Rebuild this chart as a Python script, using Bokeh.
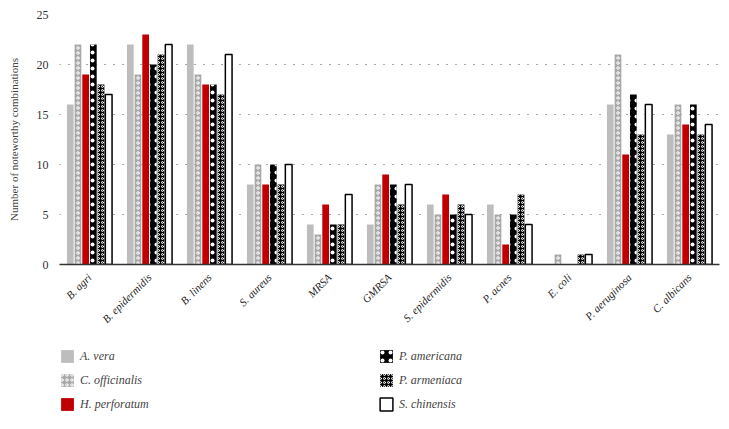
from bokeh.plotting import figure
from bokeh.models import FactorRange, Legend, LegendItem, Range1d
from bokeh.layouts import column
from bokeh.transform import dodge
from bokeh.embed import file_html
from bokeh.resources import INLINE
import math

categories = ["B. agri", "B. epidermidis", "B. linens", "S. aureus", "MRSA", "GMRSA",
              "S. epidermidis", "P. acnes", "E. coli", "P. aeruginosa", "C. albicans"]
series_names = ["A. vera", "C. officinalis", "H. perforatum",
                "P. americana", "P. armeniaca", "S. chinensis"]
a_vera        = [16, 22, 22, 8, 4, 4, 6, 6, 0, 16, 13]
c_officinalis = [22, 19, 19, 10, 3, 8, 5, 5, 1, 21, 16]
h_perforatum  = [19, 23, 18, 8, 6, 9, 7, 2, 0, 11, 14]
p_americana   = [22, 20, 18, 10, 4, 8, 5, 5, 0, 17, 16]
p_armeniaca   = [18, 21, 17, 8, 4, 6, 6, 7, 1, 13, 13]
s_chinensis   = [17, 22, 21, 10, 7, 8, 5, 4, 1, 16, 14]
y_ticks = [0, 5, 10, 15, 20, 25]

series_values = [a_vera, c_officinalis, h_perforatum, p_americana, p_armeniaca, s_chinensis]

styles = [
    dict(fill_color="#bdbdbd", line_color=None),
    dict(fill_color="#a8a8a8", line_color=None, hatch_pattern="ring", hatch_color="white",
         hatch_scale=5, hatch_weight=1),
    dict(fill_color="#c00000", line_color=None),
    dict(fill_color="black", line_color=None, hatch_pattern="dot", hatch_color="white",
         hatch_scale=8, hatch_weight=1.5),
    dict(fill_color="black", line_color=None, hatch_pattern="ring", hatch_color="white",
         hatch_scale=4, hatch_weight=1),
    dict(fill_color="white", line_color="black", line_width=1.5),
]

serif = "Liberation Serif"

p = figure(x_range=FactorRange(*categories), y_range=Range1d(0, 25),
           frame_width=660, frame_height=250, output_backend="svg", toolbar_location=None,
           min_border_left=59, min_border_right=2, min_border_top=14, min_border_bottom=62)
p.outline_line_color = None

# legend panel (separate figure below the chart; its zero-size proxy bars lie outside its range)
lg = figure(width=721, height=87, output_backend="svg", toolbar_location=None,
            x_range=FactorRange(*categories), y_range=Range1d(100, 101),
            x_axis_location=None, y_axis_location=None, min_border=0)
lg.grid.visible = False
lg.outline_line_color = None

step = 0.128
items = []
for i, (name, vals) in enumerate(zip(series_names, series_values)):
    data = dict(cat=categories, val=vals)
    p.vbar(x=dodge("cat", (i - 2.5) * step, range=p.x_range), top="val",
           width=0.112, source=data, **styles[i])
    r = lg.vbar(x=dodge("cat", (i - 2.5) * step, range=lg.x_range), top="val", bottom="val",
                width=0, source=data, **styles[i])
    items.append(LegendItem(label=name, renderers=[r]))

p.xgrid.grid_line_color = None
p.ygrid.grid_line_color = "#555555"
p.ygrid.grid_line_dash = "1 8"
p.ygrid.grid_line_width = 1.2

p.yaxis.ticker = y_ticks
p.yaxis.axis_line_color = None
p.yaxis.major_tick_line_color = None
p.yaxis.minor_tick_line_color = None
p.yaxis.axis_label = "Number of noteworthy combinations"
p.yaxis.axis_label_text_font = serif
p.yaxis.axis_label_text_font_style = "normal"
p.yaxis.axis_label_text_font_size = "11px"
p.yaxis.axis_label_standoff = 14
p.yaxis.major_label_text_font = serif
p.yaxis.major_label_text_font_size = "12px"
p.yaxis.major_label_text_color = "#333333"

p.xaxis.axis_line_color = "#333333"
p.xaxis.axis_line_width = 1.5
p.xaxis.major_tick_line_color = None
p.xaxis.minor_tick_line_color = None
p.xaxis.major_label_orientation = math.pi / 4
p.xaxis.major_label_text_font = serif
p.xaxis.major_label_text_font_style = "italic"
p.xaxis.major_label_text_font_size = "11px"
p.xaxis.major_label_text_color = "#222222"

legend = Legend(items=items, nrows=3, location=(0, 7),
                label_text_font=serif, label_text_font_style="italic",
                label_text_font_size="12px", label_width=290,
                glyph_width=16, glyph_height=16, spacing=8,
                border_line_color=None, background_fill_alpha=0,
                margin=0, padding=0)
lg.add_layout(legend, "center")

layout = column(p, lg)
open("out.html", "w").write(file_html(layout, INLINE))
